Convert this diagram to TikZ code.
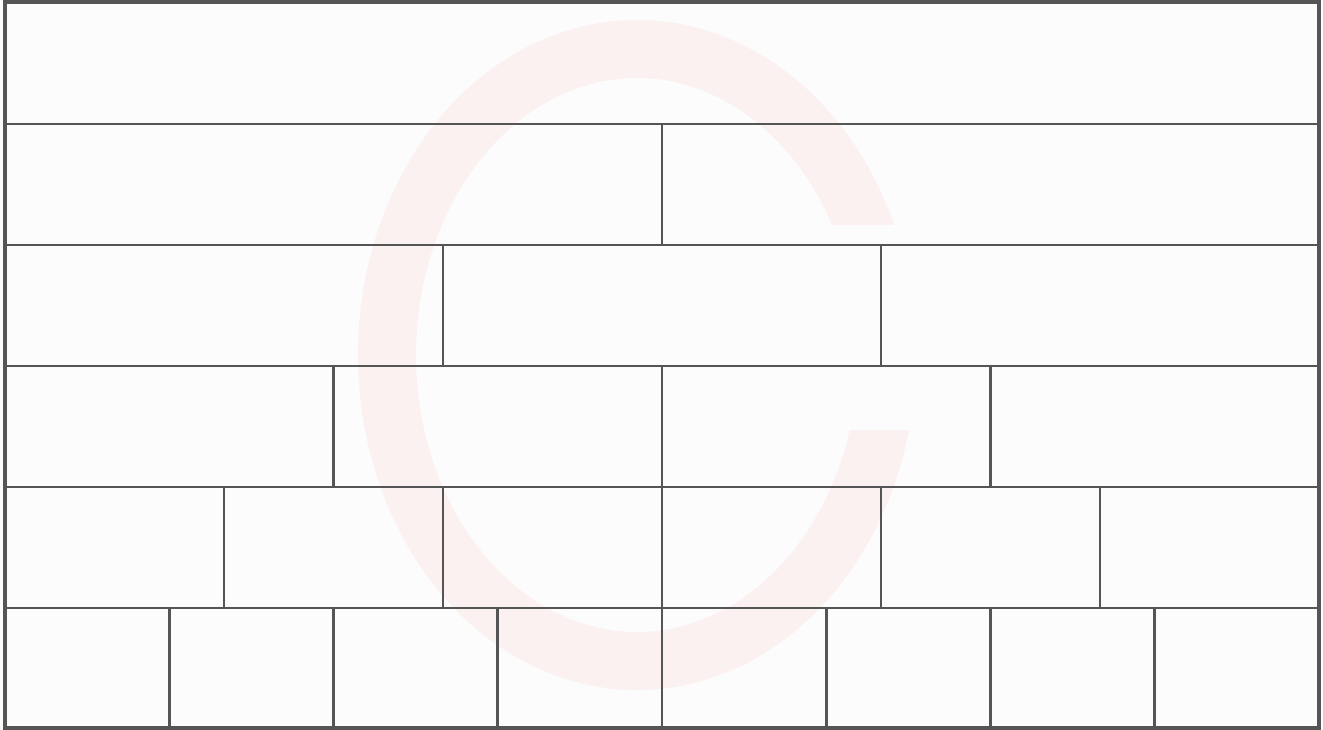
\documentclass[tikz,border=0pt]{standalone}
\definecolor{wall}{HTML}{555555}
\definecolor{bg}{HTML}{FCFCFC}
\definecolor{wmark}{HTML}{FCF1F1}
\begin{document}
\begin{tikzpicture}[x=1pt,y=-1pt,
  brick/.style={draw=wall,line width=2.6pt},
  frame/.style={draw=wall,line width=4pt}]
\useasboundingbox (0,0) rectangle (1323,730);
\fill[bg] (0,0) rectangle (1323,730);
% faint watermark letter shape, ends cut horizontally
\begin{scope}
  \clip (0,0) -- (1323,0) -- (1323,225) -- (780,225) -- (780,430) -- (1323,430) -- (1323,730) -- (0,730) -- cycle;
  \draw[wmark,line width=58pt] (637,355) ++(-18:250 and 306) arc[start angle=-18,end angle=-352,x radius=250,y radius=306];
\end{scope}
% fraction wall bricks
\foreach \n/\ya/\yb in {1/2/124,2/124/245,3/245/366,4/366/487,6/487/608,8/608/728}{
  \foreach \k in {1,...,\n}{
    \draw[brick] ({5+(\k-1)*1314/\n},\ya) rectangle ({5+\k*1314/\n},\yb);
  }
}
\draw[frame] (5,2) rectangle (1319,728);
\end{tikzpicture}
\end{document}
